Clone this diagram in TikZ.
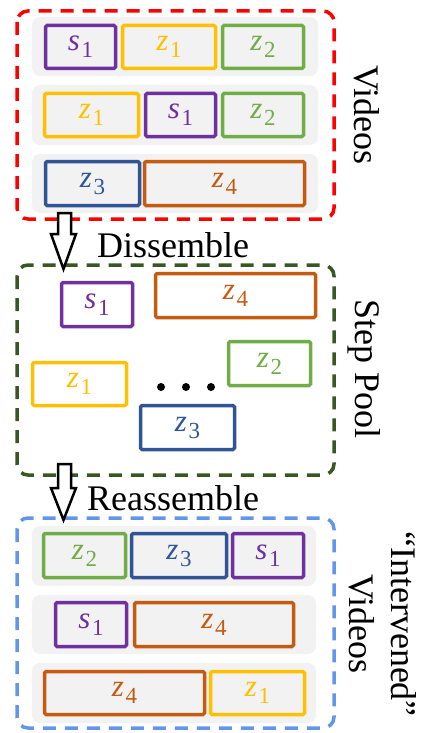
\documentclass[tikz,border=0pt]{standalone}
\usepackage{fontspec}
\setmainfont{Liberation Serif}
\newcommand{\lab}[2]{\textit{#1}\kern1.5pt\raisebox{-7pt}{\fontsize{23}{23}\selectfont #2}}
\definecolor{cpurple}{RGB}{112,48,160}
\definecolor{cyellow}{RGB}{255,192,0}
\definecolor{cgreen}{RGB}{112,173,71}
\definecolor{cblue}{RGB}{47,85,151}
\definecolor{corange}{RGB}{197,90,17}
\definecolor{cred}{RGB}{255,0,0}
\definecolor{cdkgreen}{RGB}{56,87,35}
\definecolor{clblue}{RGB}{100,149,237}
\definecolor{cgray}{RGB}{242,242,242}
\tikzset{
  rowbg/.style={fill=cgray, rounded corners=8pt, inner sep=0pt},
  seg/.style={draw, line width=3.5pt, rounded corners=1.5pt, inner sep=0pt, fill=cgray,
    font=\fontsize{31}{32}\selectfont},
  pseg/.style={seg, fill=white},
  grp/.style={line width=3.5pt, rounded corners=11pt, dash pattern=on 13pt off 9pt},
  bigtxt/.style={font=\fontsize{36}{42}\selectfont, inner sep=0pt},
  hollow/.style={draw=black, fill=white, line width=2.5pt, line join=miter},
  dotmark/.style={circle, fill=black, inner sep=0pt, minimum size=8pt}
}
\begin{document}
\begin{tikzpicture}[x=1pt, y=-1pt]
\useasboundingbox (0,0) rectangle (422,733);
% ---------- Videos ----------
\node[rowbg, minimum width=286pt, minimum height=59pt] (r1) at (175,46.5) {};
\node[rowbg, minimum width=286pt, minimum height=60pt] (r2) at (175,115) {};
\node[rowbg, minimum width=286pt, minimum height=59pt] (r3) at (175,183.5) {};
\node[seg, draw=cpurple, text=cpurple, minimum width=70pt, minimum height=43pt] (a1) at (80.5,47) {\lab{s}{1}};
\node[seg, draw=cyellow, text=cyellow, minimum width=93pt, minimum height=43pt] (a2) at (169,47) {\lab{z}{1}};
\node[seg, draw=cgreen, text=cgreen, minimum width=81pt, minimum height=43pt] (a3) at (263,47) {\lab{z}{2}};
\node[seg, draw=cyellow, text=cyellow, minimum width=94pt, minimum height=43pt] (b1) at (91.5,115) {\lab{z}{1}};
\node[seg, draw=cpurple, text=cpurple, minimum width=70pt, minimum height=43pt] (b2) at (180.5,115) {\lab{s}{1}};
\node[seg, draw=cgreen, text=cgreen, minimum width=81pt, minimum height=43pt] (b3) at (263,115) {\lab{z}{2}};
\node[seg, draw=cblue, text=cblue, minimum width=94pt, minimum height=44pt] (c1) at (92.5,183.5) {\lab{z}{3}};
\node[seg, draw=corange, text=corange, minimum width=160pt, minimum height=44pt] (c2) at (224.5,183.5) {\lab{z}{4}};
\draw[grp, draw=cred] (17,11) rectangle (334,219);
\node[bigtxt, rotate=-90] (vid) at (367,115) {Videos};
% ---------- Step Pool ----------
\draw[grp, draw=cdkgreen] (17,265) rectangle (334,475);
\node[pseg, draw=cpurple, text=cpurple, minimum width=71pt, minimum height=44pt] (p1) at (97,304.5) {\lab{s}{1}};
\node[pseg, draw=corange, text=corange, minimum width=160pt, minimum height=44pt] (p2) at (235.5,295.5) {\lab{z}{4}};
\node[pseg, draw=cgreen, text=cgreen, minimum width=82pt, minimum height=44pt] (p3) at (269.5,363.5) {\lab{z}{2}};
\node[pseg, draw=cyellow, text=cyellow, minimum width=94pt, minimum height=43pt] (p4) at (79.5,384) {\lab{z}{1}};
\node[pseg, draw=cblue, text=cblue, minimum width=94pt, minimum height=44pt] (p5) at (187.5,427.5) {\lab{z}{3}};
\node[dotmark] (d1) at (161,387) {};
\node[dotmark] (d2) at (186,387) {};
\node[dotmark] (d3) at (211,387) {};
\node[bigtxt, rotate=-90] (pool) at (364,369) {Step Pool};
% ---------- Intervened Videos ----------
\node[rowbg, minimum width=284pt, minimum height=60pt] (s1) at (174,556) {};
\node[rowbg, minimum width=284pt, minimum height=59pt] (s2) at (174,624.5) {};
\node[rowbg, minimum width=284pt, minimum height=60pt] (s3) at (174,693) {};
\node[seg, draw=cgreen, text=cgreen, minimum width=82pt, minimum height=44pt] (e1) at (84.5,555.5) {\lab{z}{2}};
\node[seg, draw=cblue, text=cblue, minimum width=95pt, minimum height=44pt] (e2) at (179,555.5) {\lab{z}{3}};
\node[seg, draw=cpurple, text=cpurple, minimum width=71pt, minimum height=44pt] (e3) at (268,555.5) {\lab{s}{1}};
\node[seg, draw=cpurple, text=cpurple, minimum width=71pt, minimum height=44pt] (f1) at (91,624.5) {\lab{s}{1}};
\node[seg, draw=corange, text=corange, minimum width=159pt, minimum height=44pt] (f2) at (214,624.5) {\lab{z}{4}};
\node[seg, draw=corange, text=corange, minimum width=160pt, minimum height=43pt] (g1) at (124.5,693) {\lab{z}{4}};
\node[seg, draw=cyellow, text=cyellow, minimum width=94pt, minimum height=43pt] (g2) at (257.5,693) {\lab{z}{1}};
\draw[grp, draw=clblue] (17,518) rectangle (334,728);
\node[bigtxt, rotate=-90, align=center] (ivid) at (383,624) {“Intervened”\\Videos};
% ---------- arrows ----------
\draw[hollow] (58,213) -- (71,213) -- (71,234) -- (76,234) -- (63.5,269) -- (51,234) -- (58,234) -- cycle;
\node[bigtxt, anchor=base west] (dis) at (97,257) {Dissemble};
\draw[hollow] (58,464) -- (71,464) -- (71,488) -- (76,488) -- (63.5,520) -- (51,488) -- (58,488) -- cycle;
\node[bigtxt, anchor=base west] (rea) at (87,510) {Reassemble};
\end{tikzpicture}
\end{document}
